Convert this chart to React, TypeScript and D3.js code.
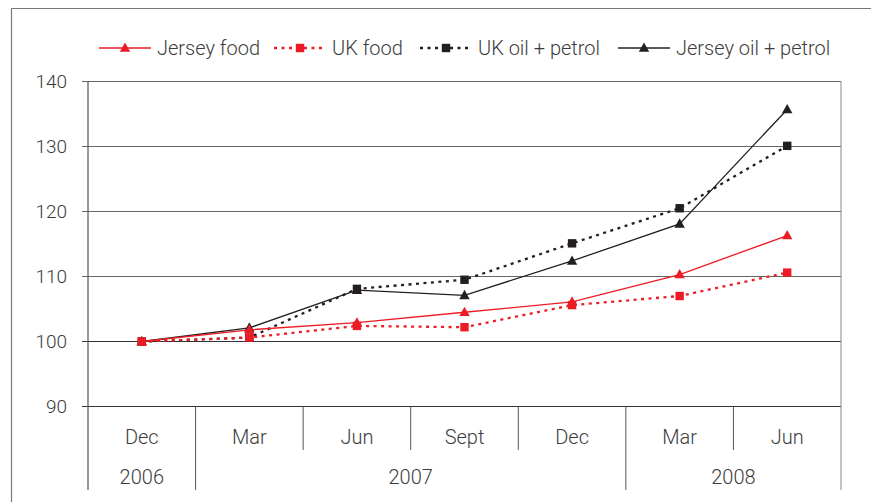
import React from "react";
import * as d3 from "d3";

const months = ["Dec", "Mar", "Jun", "Sept", "Dec", "Mar", "Jun"];
const years = ["2006", "2007", "2008"];
const yearSpans = [1, 4, 2];
const yTicks = [90, 100, 110, 120, 130, 140];

const jerseyFood = [100, 101.8, 102.9, 104.5, 106.1, 110.3, 116.3];
const ukFood = [100, 100.6, 102.4, 102.2, 105.6, 107.0, 110.6];
const ukOil = [100, 100.6, 108.1, 109.5, 115.1, 120.5, 130.1];
const jerseyOil = [100, 102.1, 107.9, 107.1, 112.4, 118.1, 135.7];

const RED = "#ed1c24";
const BLACK = "#231f20";
const TXT = "#3c3c3c";
const FONT = "Roboto, 'DejaVu Sans', sans-serif";

type S = { name: string; values: number[]; color: string; dashed: boolean; marker: "tri" | "sq" };
const series: S[] = [
  { name: "Jersey food", values: jerseyFood, color: RED, dashed: false, marker: "tri" },
  { name: "UK food", values: ukFood, color: RED, dashed: true, marker: "sq" },
  { name: "UK oil + petrol", values: ukOil, color: BLACK, dashed: true, marker: "sq" },
  { name: "Jersey oil + petrol", values: jerseyOil, color: BLACK, dashed: false, marker: "tri" },
];
const legendX = [99, 274, 420, 618];

function Marker({ kind, x, y, color }: { kind: string; x: number; y: number; color: string }) {
  if (kind === "tri") {
    return <path d={`M${x},${y - 5.5}L${x + 5.2},${y + 3.8}L${x - 5.2},${y + 3.8}Z`} fill={color} />;
  }
  return <rect x={x - 4.2} y={y - 4.2} width={8.4} height={8.4} fill={color} />;
}

export default function App() {
  const W = 871, H = 502;
  const left = 88, right = 841, top = 81.5, bottom = 406.5;
  const x = d3.scaleBand<number>().domain(d3.range(months.length)).range([left, right]).padding(0);
  const y = d3.scaleLinear().domain([90, 140]).range([bottom, top]);
  const cx = (i: number) => (x(i) as number) + x.bandwidth() / 2;
  const line = d3.line<number>().x((_, i) => cx(i)).y((v) => y(v));

  const yearBounds: number[] = [];
  let acc = 0;
  yearSpans.forEach((s) => { yearBounds.push(acc); acc += s; });
  const bw = x.bandwidth();

  return (
    <div style={{ position: "absolute", left: 0, top: 0 }}>
      <svg width={W} height={H} style={{ display: "block", fontFamily: FONT }}>
        <rect x={0} y={0} width={W} height={H} fill="#fff" />
        {/* outer frame */}
        <line x1={11.5} y1={8.5} x2={W} y2={8.5} stroke="#777" strokeWidth={1.2} />
        <line x1={11.5} y1={8.5} x2={11.5} y2={H} stroke="#777" strokeWidth={1.2} />

        {/* grid lines */}
        {yTicks.map((t) => (
          <g key={t}>
            <line x1={left - 6} x2={right} y1={y(t)} y2={y(t)} stroke={t === 90 || t === 100 ? "#333" : "#666"} strokeWidth={1} />
            <text x={67} y={y(t)} dy="0.35em" textAnchor="end" fontSize={19} fontWeight={300} fill={TXT}>{t}</text>
          </g>
        ))}
        {/* y axis */}
        <line x1={left} x2={left} y1={top} y2={490} stroke="#555" strokeWidth={1.2} />
        {/* right edge */}
        <line x1={right} x2={right} y1={top} y2={490} stroke="#888" strokeWidth={1} />

        {/* category ticks */}
        {months.map((m, i) => {
          const xs = (x(i) as number);
          const isYear = yearBounds.includes(i);
          return (
            <g key={i}>
              {i > 0 && <line x1={xs} x2={xs} y1={bottom} y2={isYear ? 490 : 450} stroke="#555" strokeWidth={1} />}
              <text x={cx(i)} y={437} dy="0.35em" textAnchor="middle" fontSize={20} fontWeight={300} fill={TXT}>{m}</text>
            </g>
          );
        })}
        {years.map((yr, j) => {
          const x0 = x(yearBounds[j]) as number;
          const x1 = x0 + yearSpans[j] * bw;
          return (
            <text key={yr} x={(x0 + x1) / 2} y={477} dy="0.35em" textAnchor="middle" fontSize={20} fontWeight={300} fill={TXT}>{yr}</text>
          );
        })}

        {/* series */}
        {[...series].reverse().map((s) => (
          <g key={s.name}>
            <path d={line(s.values) || ""} fill="none" stroke={s.color}
              strokeWidth={s.dashed ? 2.3 : 1.3}
              strokeDasharray={s.dashed ? "3,4.5" : undefined} />
            {s.values.map((v, i) => (
              <Marker key={i} kind={s.marker} x={cx(i)} y={y(v)} color={s.color} />
            ))}
          </g>
        ))}

        {/* legend */}
        {series.map((s, i) => {
          const lx = legendX[i];
          const ly = 48;
          return (
            <g key={s.name}>
              <line x1={lx} x2={lx + 52} y1={ly} y2={ly} stroke={s.color}
                strokeWidth={s.dashed ? 2.3 : 1.3} strokeDasharray={s.dashed ? "3,4.5" : undefined} />
              <Marker kind={s.marker} x={lx + 26} y={ly} color={s.color} />
              <text x={lx + 58} y={ly} dy="0.35em" fontSize={20} fontWeight={300} fill={TXT}>{s.name}</text>
            </g>
          );
        })}
      </svg>
    </div>
  );
}
